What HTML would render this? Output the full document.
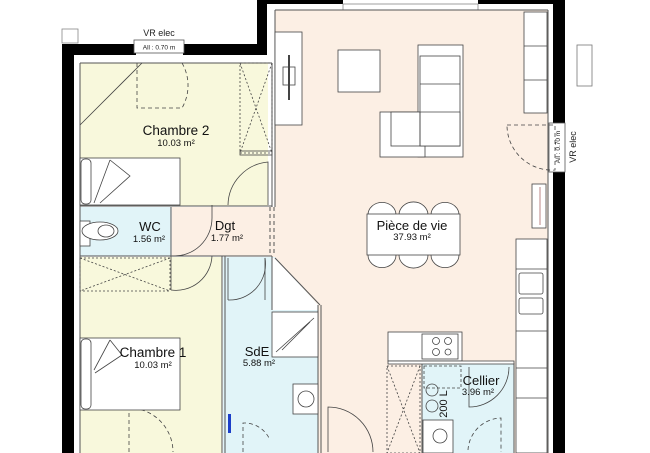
<!DOCTYPE html>
<html><head><meta charset="utf-8"><style>
html,body{margin:0;padding:0;background:#fff;}
svg{display:block;font-family:"Liberation Sans",sans-serif;}
</style></head><body>
<svg width="650" height="453" viewBox="0 0 650 453" xmlns="http://www.w3.org/2000/svg">
<rect x="272" y="10" width="276" height="443" fill="#fcefe4"/>
<rect x="80" y="63" width="192" height="143" fill="#f8f8dc"/>
<rect x="80" y="207" width="91" height="49" fill="#e1f4f8"/>
<rect x="172" y="207" width="103" height="49" fill="#fcefe4"/>
<rect x="80" y="257" width="142" height="196" fill="#f8f8dc"/>
<path d="M223 257 H275 L318 305 V453 H223 Z" fill="#e1f4f8"/>
<path d="M275 258 L318 305 V310 H272 V258 Z" fill="#fff"/>
<rect x="422" y="363" width="92" height="90" fill="#e1f4f8"/>

<g fill="#000">
<rect x="62" y="44" width="12" height="409"/>
<rect x="62" y="44" width="74" height="11"/>
<rect x="183" y="44" width="84" height="11"/>
<rect x="257" y="0" width="10" height="55"/>
<rect x="257" y="0" width="86" height="4"/>
<rect x="478" y="0" width="87" height="4"/>
<rect x="553" y="0" width="12" height="123"/>
<rect x="553" y="172" width="12" height="281"/>
</g>
<rect x="343" y="4" width="135" height="6" fill="#fff" stroke="#888" stroke-width="0.8"/>
<rect x="268" y="4" width="7" height="203" fill="#fff"/>
<g fill="none" stroke="#555" stroke-width="1">
<line x1="80" y1="63" x2="272" y2="63"/>
<line x1="80" y1="63" x2="80" y2="453"/>
<line x1="272" y1="63" x2="272" y2="207"/>
<line x1="275" y1="10" x2="548" y2="10"/>
<line x1="275" y1="10" x2="275" y2="207"/>
<line x1="548" y1="10" x2="548" y2="453"/>
<line x1="80" y1="206" x2="272" y2="206"/>
<line x1="80" y1="256" x2="272" y2="256"/>
<line x1="171" y1="207" x2="171" y2="256"/>
<line x1="222" y1="256" x2="222" y2="453"/>
<line x1="225" y1="256" x2="225" y2="453"/>
<line x1="318" y1="305" x2="318" y2="453"/>
<line x1="321" y1="305" x2="321" y2="453"/>
<line x1="272" y1="256" x2="272" y2="310"/>
<line x1="275" y1="258" x2="320" y2="305"/>
<line x1="422" y1="363" x2="422" y2="453"/>
<line x1="514" y1="363" x2="514" y2="453"/>
<line x1="388" y1="362" x2="514" y2="362"/>
</g>
<g stroke="#555" stroke-width="1" stroke-dasharray="4,3">
<line x1="270" y1="207" x2="270" y2="256"/>
<line x1="274" y1="207" x2="274" y2="256"/>
</g>
<rect x="134" y="40" width="50" height="13" fill="#fff" stroke="#555" stroke-width="0.8"/>
<text x="159" y="49.5" font-size="6.5" text-anchor="middle" fill="#222">All : 0.70 m</text>
<text x="159" y="36" font-size="9" text-anchor="middle" fill="#222">VR elec</text>
<rect x="62" y="29" width="16" height="14" fill="#fff" stroke="#888" stroke-width="0.8"/>
<rect x="549" y="123" width="16" height="49" fill="#fff" stroke="#555" stroke-width="0.8"/>
<text transform="translate(560,147) rotate(-90)" font-size="6.5" text-anchor="middle" fill="#222">All : 0.70 m</text>
<text transform="translate(576,147) rotate(-90)" font-size="9" text-anchor="middle" fill="#222">VR elec</text>
<rect x="577" y="45" width="15" height="41" fill="#fff" stroke="#777" stroke-width="0.8"/>

<g fill="none" stroke="#444" stroke-width="0.8">
<path d="M137 63 V108 H182 A45 45 0 0 0 182 63" stroke-dasharray="4,3"/>
<path d="M228 205 A44 44 0 0 1 268 162 V205"/>
<path d="M172 256 A38 38 0 0 0 212 218 V205" />
<path d="M171 256 V290 M171 290 A36 36 0 0 0 212 256"/>
<path d="M228 258 V300 M228 300 A36 36 0 0 0 265 258"/>
<path d="M265 258 V300"/>
<path d="M507 125 H555 V170 A45 45 0 0 1 507 125" stroke-dasharray="4,3"/>
<path d="M129 452 V408 A44 44 0 0 1 173 452" stroke-dasharray="4,3"/>
<path d="M328 452 V407 A45 45 0 0 1 373 452"/>
<path d="M469 367 V407 A40 40 0 0 0 509 367"/>
<path d="M243 452 V423 A28 28 0 0 1 270 440" stroke-dasharray="4,3"/>
<path d="M468 450 A34 34 0 0 1 501 418 V452" stroke-dasharray="4,3"/>
<rect x="240" y="63" width="32" height="90" stroke-dasharray="2,2"/>
<path d="M240 63 L272 153 M272 63 L240 153" stroke-dasharray="2,2"/>
<rect x="240" y="151" width="32" height="4"/>
<rect x="80" y="258" width="90" height="33" stroke-dasharray="2,2"/>
<path d="M80 258 L170 291 M170 258 L80 291" stroke-dasharray="2,2"/>
<rect x="387" y="366" width="33" height="87" stroke-dasharray="2,2"/>
<path d="M387 366 L420 453 M420 366 L387 453" stroke-dasharray="2,2"/>
<rect x="80" y="158" width="100" height="47" fill="#fff"/>
<rect x="81" y="159" width="10" height="45" rx="4"/>
<path d="M110 160 L130 176 L100 203 M110 160 L94 203"/>
<rect x="80" y="338" width="100" height="72" fill="#fff"/>
<rect x="81" y="339" width="10" height="70" rx="4"/>
<path d="M110 340 L122 355 L95 373 M110 340 L94 370"/>
<path d="M80 125 L142 63"/>
<rect x="80" y="221" width="10" height="25" fill="#fff"/>
<ellipse cx="100" cy="231" rx="18" ry="9" fill="#fff"/>
<ellipse cx="106" cy="231" rx="8" ry="6"/>
<rect x="275" y="32" width="27" height="93" fill="#fff"/>
<rect x="283" y="67" width="12" height="18" fill="#fff"/>
<line x1="289" y1="55" x2="289" y2="100" stroke-width="2"/>
<rect x="338" y="50" width="42" height="42" fill="#fff"/>
<rect x="418" y="45" width="45" height="112" fill="#fff"/>
<rect x="380" y="112" width="45" height="45" fill="#fff"/>
<rect x="391" y="112" width="69" height="34" fill="#fff"/>
<rect x="420" y="56" width="40" height="90" fill="#fff"/>
<line x1="420" y1="84" x2="460" y2="84"/>
<line x1="420" y1="112" x2="460" y2="112"/>
<line x1="420" y1="112" x2="420" y2="146"/>
<rect x="524" y="12" width="23" height="101" fill="#fff"/>
<line x1="524" y1="46" x2="547" y2="46"/>
<line x1="524" y1="80" x2="547" y2="80"/>
<path d="M368 215 A10 9 0 0 1 396 215 M399 215 A10 9 0 0 1 428 215 M431 215 A10 9 0 0 1 459 215" fill="#fff"/>
<path d="M368 255 A10 9 0 0 0 396 255 M399 255 A10 9 0 0 0 428 255 M431 255 A10 9 0 0 0 459 255" fill="#fff"/>
<rect x="367" y="214" width="93" height="41" fill="#fff"/>
<rect x="532" y="184" width="14" height="44" fill="#fff"/>
<line x1="540" y1="187" x2="540" y2="225" stroke="#a66"/>
<rect x="516" y="239" width="31" height="214" fill="#fff"/>
<line x1="516" y1="269" x2="547" y2="269"/>
<rect x="519" y="273" width="24" height="21" rx="2"/>
<rect x="519" y="298" width="24" height="16" rx="2"/>
<line x1="516" y1="331" x2="547" y2="331"/>
<line x1="516" y1="368" x2="547" y2="368"/>
<line x1="516" y1="398" x2="547" y2="398"/>
<rect x="388" y="332" width="74" height="29" fill="#fff"/>
<rect x="422" y="334" width="36" height="25"/>
<circle cx="436" cy="341" r="3.5"/><circle cx="448" cy="341" r="3.5"/>
<circle cx="436" cy="352" r="3.5"/><circle cx="448" cy="352" r="3"/>
<rect x="388" y="361" width="126" height="3" fill="#fff"/>
<rect x="424" y="366" width="37" height="22" stroke-dasharray="3,2"/>
<circle cx="432" cy="390" r="6"/><circle cx="432" cy="406" r="6"/>
<rect x="423" y="420" width="30" height="33" fill="#fff"/>
<circle cx="440" cy="436" r="7"/>
<rect x="272" y="312" width="46" height="45" fill="#fff"/>
<path d="M276 352 L314 318 M282 350 L310 322"/>
<rect x="293" y="384" width="25" height="30" fill="#fff"/>
<circle cx="306" cy="399" r="8"/>
</g>
<rect x="228" y="414" width="3" height="19" fill="#1b3ec9"/>

<g fill="#111" text-anchor="middle">
<text x="176" y="135" font-size="13.5">Chambre 2</text>
<text x="176" y="146" font-size="9.5">10.03 m²</text>
<text x="150" y="231" font-size="13">WC</text>
<text x="149" y="242" font-size="9.5">1.56 m²</text>
<text x="225" y="230" font-size="13">Dgt</text>
<text x="227" y="241" font-size="9.5">1.77 m²</text>
<text x="412" y="230" font-size="13">Pièce de vie</text>
<text x="412" y="240" font-size="9.5">37.93 m²</text>
<text x="153" y="357" font-size="13.5">Chambre 1</text>
<text x="153" y="368" font-size="9.5">10.03 m²</text>
<text x="257" y="356" font-size="13">SdE</text>
<text x="259" y="366" font-size="9.5">5.88 m²</text>
<text x="481" y="385" font-size="13">Cellier</text>
<text x="478" y="395" font-size="9.5">3.96 m²</text>
<text transform="translate(447,404) rotate(-90)" font-size="11">200 L</text>
</g>
</svg>
</body></html>
